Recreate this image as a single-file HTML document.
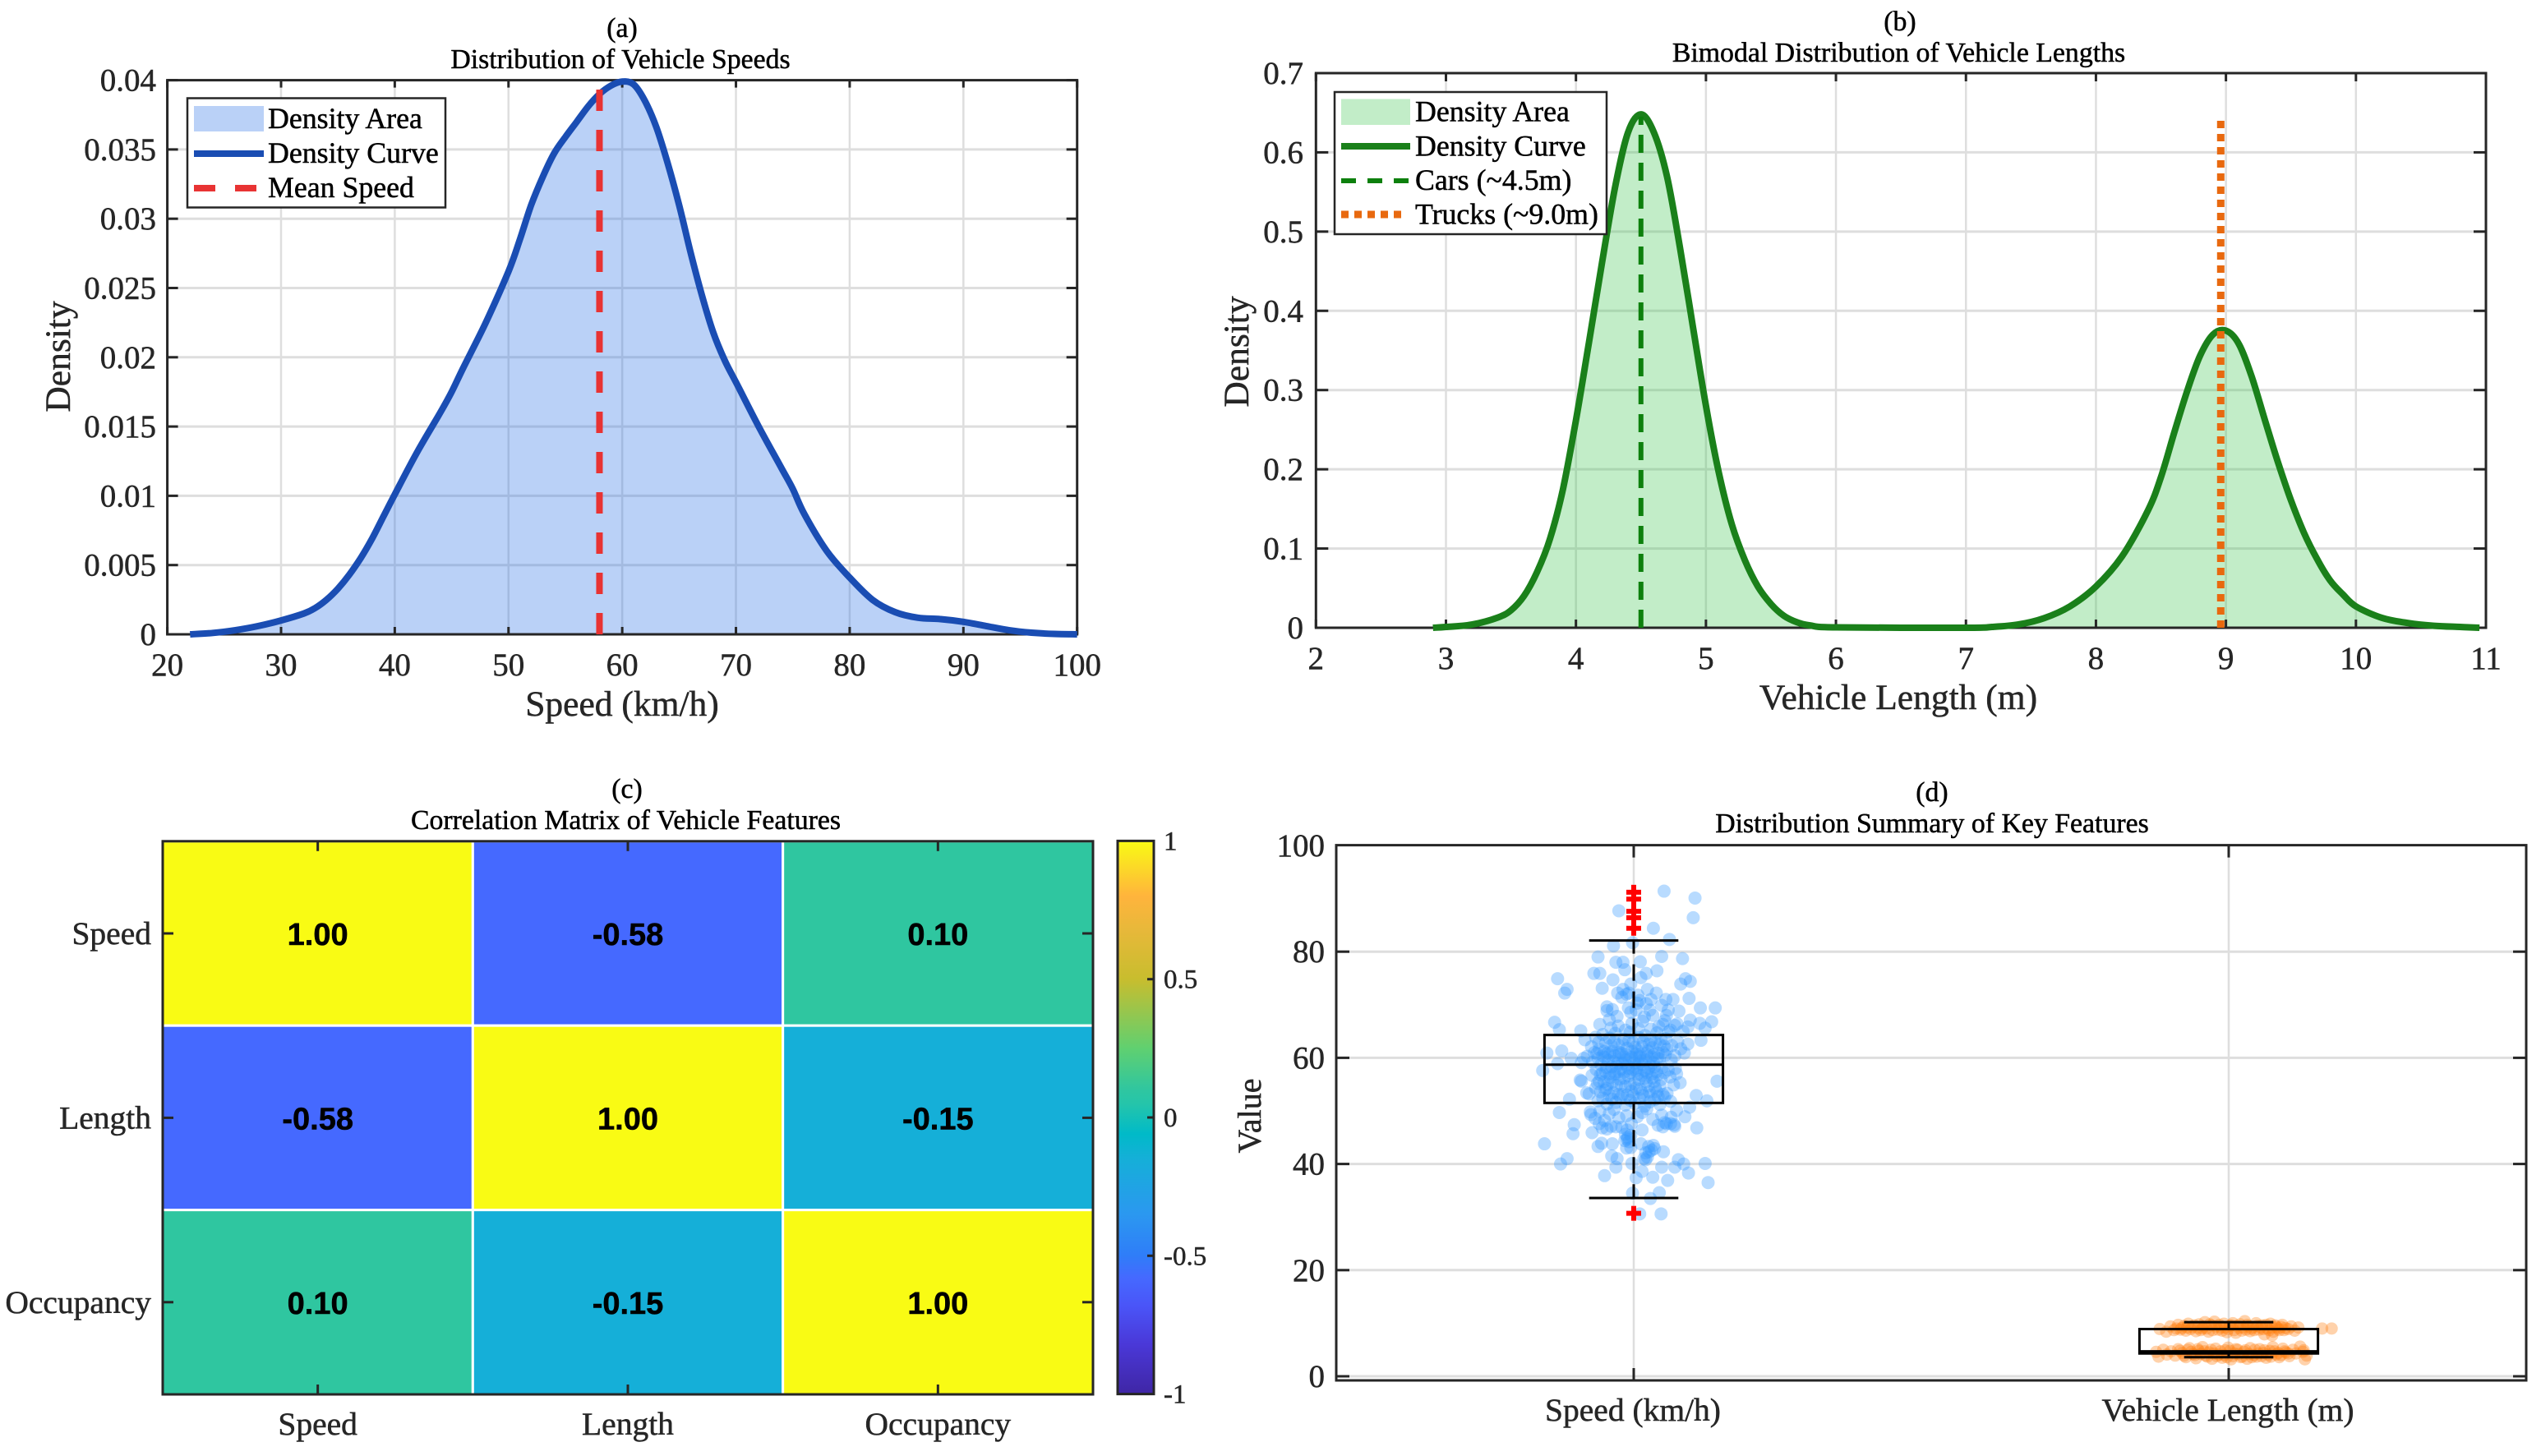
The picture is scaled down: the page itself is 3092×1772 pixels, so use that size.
<!DOCTYPE html>
<html lang="en">
<head>
<meta charset="utf-8">
<title>Vehicle Feature Analysis</title>
<style>
html,body{margin:0;padding:0;background:#fff;}
svg{display:block;font-family:"Liberation Serif",serif;}
svg text{stroke-width:.5px;}
.title{font-size:33.8px;fill:#000;stroke:#000;text-anchor:middle;}
.axis-label{font-size:43.5px;fill:#262626;stroke:#262626;text-anchor:middle;}
.legend-text{font-size:35.8px;fill:#000;stroke:#000;}
</style>
</head>
<body>
<svg id="figure" xmlns="http://www.w3.org/2000/svg" width="3092" height="1772" viewBox="0 0 3092 1772">
  <rect x="0" y="0" width="3092" height="1772" fill="#fff"/>
  <defs><linearGradient id="cbar-gradient" x1="0" y1="1" x2="0" y2="0"></linearGradient></defs>

  <g id="panel-a">
    <text class="title" x="757" y="45">(a)</text>
    <text class="title" x="755" y="83">Distribution of Vehicle Speeds</text>
    <g id="plot-a"></g>
    <text class="axis-label" x="757" y="871">Speed (km/h)</text>
    <text class="axis-label" transform="translate(85 434) rotate(-90)">Density</text>
    <g>
      <rect x="228" y="119.5" width="314" height="133" fill="#fff" stroke="#262626" stroke-width="2.5"/>
      <rect x="236" y="129" width="85" height="31" fill="#bad1f7"/>
      <text class="legend-text" x="326" y="156">Density Area</text>
      <line x1="236" y1="187" x2="321" y2="187" stroke="#1a4db3" stroke-width="8"/>
      <text class="legend-text" x="326" y="198">Density Curve</text>
      <line x1="236" y1="229" x2="321" y2="229" stroke="#e83333" stroke-width="8" stroke-dasharray="26 24"/>
      <text class="legend-text" x="326" y="240">Mean Speed</text>
    </g>
  </g>

  <g id="panel-b">
    <text class="title" x="2312" y="37">(b)</text>
    <text class="title" x="2310.5" y="75">Bimodal Distribution of Vehicle Lengths</text>
    <g id="plot-b"></g>
    <text class="axis-label" x="2310" y="863">Vehicle Length (m)</text>
    <text class="axis-label" transform="translate(1519 428) rotate(-90)">Density</text>
    <g>
      <rect x="1624" y="112" width="331" height="173" fill="#fff" stroke="#262626" stroke-width="2.5"/>
      <rect x="1632" y="120.5" width="84" height="31.5" fill="#c2edc8"/>
      <text class="legend-text" x="1722" y="147.5">Density Area</text>
      <line x1="1632" y1="178" x2="1716" y2="178" stroke="#1a801a" stroke-width="8"/>
      <text class="legend-text" x="1722" y="189.5">Density Curve</text>
      <line x1="1632" y1="220" x2="1716" y2="220" stroke="#0d800d" stroke-width="6" stroke-dasharray="18 14"/>
      <text class="legend-text" x="1722" y="231">Cars (~4.5m)</text>
      <line x1="1632" y1="261" x2="1712" y2="261" stroke="#e8690f" stroke-width="9" stroke-dasharray="9 7"/>
      <text class="legend-text" x="1722" y="272.5">Trucks (~9.0m)</text>
    </g>
  </g>

  <g id="panel-c">
    <text class="title" x="763" y="971">(c)</text>
    <text class="title" x="761.5" y="1009">Correlation Matrix of Vehicle Features</text>
    <g id="plot-c"></g>
    <g id="cbar-c"></g>
  </g>

  <g id="panel-d">
    <text class="title" x="2351" y="975">(d)</text>
    <text class="title" x="2351" y="1013">Distribution Summary of Key Features</text>
    <g id="plot-d"></g>
    <text class="axis-label" style="font-size:40px" transform="translate(1534 1358) rotate(-90)">Value</text>
  </g>
</svg>

<script>
/* ---------- panel (a) data ---------- */
const speedGridX = [20,30,40,50,60,70,80,90,100];
const speedGridY = [0,0.005,0.01,0.015,0.02,0.025,0.03,0.035,0.04];
const speedTickLabelsY = ['0','0.005','0.01','0.015','0.02','0.025','0.03','0.035','0.04'];
const speedCurveX = [22,24,26,28,30,32,33,34,35,36,37,38,39,40,42,44,45,46,48,50,51,52,53,54,55,56,57,58,59,60,61,62,63,64,65,66,67,68,69,70,72,74,75,76,78,80,82,84,86,88,90,92,94,96,98,100];
const speedCurveY = [0,.0001,.0003,.0006,.0010,.0015,.0019,.0025,.0033,.0043,.0055,.0069,.0085,.0101,.0132,.0160,.0175,.0192,.0225,.0262,.0285,.0310,.0330,.0347,.0359,.0370,.0381,.0390,.0396,.0399,.0397,.0385,.0366,.0340,.0310,.0276,.0245,.0218,.0198,.0182,.0150,.0120,.0105,.0087,.0060,.0041,.0025,.0016,.0012,.0011,.0009,.0006,.0003,.00012,.00003,0];
const meanSpeed = 58;
const meanSpeedTop = 0.0395;

/* ---------- panel (b) data ---------- */
const lengthGridX = [2,3,4,5,6,7,8,9,10,11];
const lengthGridY = [0,0.1,0.2,0.3,0.4,0.5,0.6,0.7];
const lengthCurveX = [2.9,3.0,3.2,3.4,3.5,3.6,3.7,3.8,3.9,4.0,4.1,4.2,4.3,4.4,4.5,4.6,4.7,4.8,4.9,5.0,5.1,5.2,5.3,5.4,5.5,5.6,5.7,5.8,6.0,7.0,7.2,7.4,7.6,7.8,8.0,8.2,8.4,8.5,8.6,8.7,8.8,8.9,9.0,9.1,9.2,9.3,9.4,9.5,9.6,9.7,9.8,9.9,10.0,10.2,10.4,10.6,10.8,10.95];
const lengthCurveY = [0,.001,.004,.013,.022,.040,.070,.112,.175,.262,.36,.46,.555,.625,.648,.625,.570,.48,.38,.28,.195,.130,.085,.052,.030,.015,.007,.003,.0005,0,.001,.004,.012,.027,.052,.090,.148,.190,.245,.298,.343,.37,.375,.358,.316,.262,.209,.161,.12,.087,.06,.042,.027,.0125,.006,.0025,.001,0];
const carsLength = 4.5;
const carsTop = 0.645;
const trucksLength = 8.96;
const trucksTop = 0.64;

/* ---------- panel (c) data ---------- */
const matrixLabels = ['Speed','Length','Occupancy'];
const matrixRow1 = [1.00,-0.58,0.10];
const matrixRow2 = [-0.58,1.00,-0.15];
const matrixRow3 = [0.10,-0.15,1.00];
const colorbarTicks = [-1,-0.5,0,0.5,1];
const colormapValues = [-1,-0.82,-0.68,-0.58,-0.5,-0.35,-0.15,-0.06,0.05,0.10,0.25,0.5,0.68,0.8,1];
const colormapColors = ['#3f26a5','#4a38d8','#4a55f8','#4569ff','#2f7df8','#2b98f0','#15afd8','#00bac8','#25c5aa','#2fc6a0','#60d070','#c8bd2e','#e8b83a','#ffb43c','#f9fb14'];

/* ---------- panel (d) data ---------- */
const boxLabels = ['Speed (km/h)','Vehicle Length (m)'];
const boxPositions = [1,2];
const boxQ1 = [51.5,4.3];
const boxMedian = [58.7,4.7];
const boxQ3 = [64.3,8.9];
const boxLow = [33.6,3.6];
const boxHigh = [82.1,10.2];
const speedOutliers = [91.2,89.9,87.6,86.4,84.4,30.7];
const valueTicks = [0,20,40,60,80,100];
/* each sample: [horizontal jitter, value] */
const speedSamples = [
[.051,91.4],[.103,90.1],[.100,86.4],[-.025,87.7],[.033,84.4],[.060,82.3],[-.034,81.1],[-.002,81.7],[-.060,79.0],[.047,79.1],[.082,78.7],[.011,78.1],[-.030,78.0],[-.018,78.0],[-.015,76.6],[.039,76.4],[-.067,75.9],[-.057,75.9],[-.128,74.9],[-.035,74.7],[.012,75.1],[.021,75.9],[.087,74.9],[.095,74.4],[.079,73.9],[-.112,72.9],[-.116,72.2],[-.053,73.1],[-.018,72.9],[-.005,73.9],[.023,72.9],[.038,72.2],[-.020,71.4],[.007,71.8],[.093,71.2],[.137,69.4],[.112,69.4],[-.045,69.6],[-.036,69.1],[-.005,68.6],[.021,70.2],[.047,69.9],[.066,71.0],[.054,71.0],[.076,68.8],[-.133,66.7],[-.125,65.3],[-.089,65.1],[-.057,66.3],[-.041,67.2],[.015,66.9],[.032,68.0],[.049,66.3],[.069,66.1],[.095,67.1],[.131,66.8],[.111,66.5],[.120,65.6],[.113,63.3],[.091,65.8],
[-.027,72.2],[-.008,72.2],[.029,71.0],[.004,69.0],
[-.038,65.6],[-.026,66.0],[-.014,65.2],[-.003,66.5],[.008,65.5],[.018,67.7],[.029,65.4],[.042,65.9],[.052,67.0],[.062,65.2],[.073,66.4],[.083,65.0],[-.045,68.9],[-.028,67.8],[-.009,69.4],[.010,70.8],[.027,69.0],[.055,68.0],[-.012,72.0],[.006,70.3],[.058,69.0],
[-.082,63.4],[-.071,62.1],[-.064,63.9],[-.058,61.6],[-.052,64.4],[-.047,62.8],[-.041,63.7],[-.036,61.2],[-.031,64.6],[-.026,62.4],[-.021,60.9],[-.016,63.5],[-.011,61.8],[-.006,64.8],[-.001,62.9],[.004,60.7],[.009,63.8],[.014,62.1],[.019,64.2],[.024,61.3],[.029,63.2],[.034,60.6],[.039,64.7],[.044,62.5],[.049,61.0],[.054,63.6],[.059,64.9],[.064,62.3],[.069,60.4],[.074,63.0],[.079,61.7],[.085,60.9],[.091,62.6],
[-.078,60.3],[-.069,59.2],[-.062,60.8],[-.055,58.7],[-.049,60.1],[-.043,59.5],[-.037,58.3],[-.032,60.4],[-.027,59.0],[-.022,57.9],[-.017,60.2],[-.012,58.6],[-.007,59.7],[-.002,57.8],[.003,60.0],[.008,58.9],[.013,59.4],[.018,57.6],[.023,60.3],[.028,58.5],[.033,59.1],[.038,57.4],[.043,59.8],[.048,58.2],[.053,60.5],[.058,57.7],[.063,59.6],[.070,58.0],[-.084,59.9],
[-.070,56.7],[-.064,54.3],[-.058,55.6],[-.053,57.1],[-.048,53.9],[-.044,55.0],[-.039,56.3],[-.034,53.4],[-.029,54.8],[-.024,56.0],[-.019,53.1],[-.014,54.6],[-.009,56.6],[-.004,53.7],[.001,55.2],[.006,56.9],[.011,54.1],[.016,52.9],[.021,55.5],[.026,53.6],[.031,56.2],[.036,54.4],[.041,52.7],[.046,55.9],[.051,57.2],[.056,53.3],[.061,56.4],[.067,54.9],[.072,57.0],[.078,55.3],[-.075,53.2],
[-.060,51.9],[-.052,52.4],[-.045,51.3],[-.037,52.2],[-.030,51.6],[-.022,52.5],[-.014,51.1],[-.006,52.0],[.002,51.4],[.010,52.3],[.018,50.9],[.027,51.7],[.035,52.1],[.044,51.2],[.052,52.6],[.062,51.8],
[-.072,49.3],[-.065,48.6],[-.057,49.9],[-.049,48.2],[-.041,49.5],[-.033,50.3],[-.025,48.7],[-.012,49.1],[-.004,47.6],[.006,48.9],[.014,49.7],[.022,50.4],[.032,48.4],[.041,47.3],[.047,49.2],[.055,47.6],[.063,48.8],[.068,47.4],[.069,47.1],[.049,47.0],
[-.125,49.7],[-.108,52.2],[.123,51.9],[.140,55.6],[-.153,57.6],[-.146,60.9],[-.121,61.3],[-.128,58.9],[-.105,59.9],[-.088,59.1],[-.090,55.8],[-.088,55.6],[-.079,53.4],[-.073,49.8],[-.030,47.0],[-.011,46.4],[.014,46.4],[-.100,47.4],[-.102,45.7],[-.070,45.9],[-.053,46.8],[-.150,43.8],[-.060,43.3],[-.054,43.9],[-.036,43.8],[-.005,43.1],[.025,43.3],[.035,42.9],[.050,42.3],[-.112,41.0],[-.123,40.0],[-.037,41.5],[-.028,41.0],[.023,41.3],[.075,40.8],[.084,40.0],[.120,40.1],[-.030,39.4],[-.003,40.1],[.047,39.4],[.069,39.4],[.092,38.3],[-.049,37.8],[.004,37.4],[.014,38.6],[.032,37.5],[.057,36.9],[.125,36.5],[-.002,34.5],[.043,34.6],[.028,33.5],[.010,30.6],[.046,30.6],[-.011,44.7],[-.014,45.6],[.026,42.3],[.017,41.0],[.106,46.8],[.086,48.9],[.094,50.7],[.105,52.9],[.072,50.1],[-.005,45.4],[-.008,44.2],[.012,43.8],[.020,42.1],
[-.066,61.0],[-.059,62.9],[-.050,61.2],[-.044,60.9],[-.038,62.3],[-.033,63.0],[-.024,61.0],[-.019,62.7],[-.013,60.6],[-.008,63.2],[-.003,61.2],[.002,62.0],[.006,61.4],[.011,60.7],[.016,63.0],[.021,60.8],[.026,62.6],[.031,61.9],[.036,62.9],[.041,60.9],[.046,63.5],[.051,62.2],[.056,61.6],
[-.060,59.9],[-.052,60.4],[-.046,58.2],[-.040,60.6],[-.034,59.3],[-.029,58.4],[-.024,60.6],[-.019,58.9],[-.014,59.6],[-.009,58.0],[-.004,60.1],[.001,59.0],[.005,58.1],[.010,60.2],[.015,58.7],[.020,59.6],[.025,58.0],[.030,60.2],[.035,58.3],[.040,60.0],
[-.061,55.2],[-.056,53.6],[-.050,55.5],[-.046,54.2],[-.041,53.0],[-.036,55.4],[-.031,57.0],[-.026,53.1],[-.021,54.9],[-.016,56.2],[-.011,53.0],[-.006,55.0],[-.001,52.9],[.004,54.3],[.009,55.9],[.014,53.4],[.019,56.2],[.024,54.7],[.029,53.0],[.034,55.5],[.039,53.6],[.044,54.7],[.049,53.1],
[-.063,57.8],[-.056,56.8],[-.047,57.4],[-.041,57.0],[-.033,56.9],[-.025,57.4],[-.016,57.3],[-.006,57.2],[.004,57.6],[.013,56.7],[.022,57.2],[.030,56.9],[.040,56.8],
[-.058,47.6],[-.045,46.6],[-.038,47.1],[-.020,46.9],[-.015,44.4],[-.010,45.0],[-.012,43.0],[.052,47.8],[.062,47.6],[.033,43.5],[.030,42.6],[.020,40.8]
];
const lengthSamples = [
[-.116,8.9],[-.105,8.4],[-.098,9.4],[-.092,8.7],[-.085,9.7],[-.079,9.1],[-.072,8.6],[-.068,9.9],[-.061,9.3],[-.055,8.5],[-.05,9.8],[-.044,9.0],[-.04,10.2],[-.034,8.4],[-.029,9.6],[-.024,10.3],[-.018,8.8],[-.013,9.2],[-.008,9.9],[-.003,8.3],[.002,9.5],[.007,10.0],[.012,8.2],[.017,9.1],[.022,8.6],[.027,10.4],[.031,9.7],[.036,8.5],[.041,9.3],[.046,10.0],[.051,8.8],[.056,9.6],[.06,7.9],[.065,9.0],[.07,9.9],[.075,8.4],[.08,9.3],[.085,8.7],[.09,9.7],[.095,9.1],[.1,8.9],[.105,9.4],[.111,8.6],[.117,9.2],[.157,9.0],[.173,9.0],[.073,7.7],
[-.088,9.0],[-.081,8.8],[-.075,9.5],[-.07,9.2],[-.064,8.9],[-.058,9.6],[-.052,9.1],[-.047,8.7],[-.042,9.4],[-.037,9.0],[-.032,9.8],[-.027,8.7],[-.021,9.4],[-.016,9.7],[-.011,8.6],[-.006,9.2],[-.001,8.9],[.004,9.6],[.009,8.7],[.014,9.5],[.019,9.8],[.024,9.2],[.029,8.8],[.033,9.4],[.038,9.0],[.043,8.7],[.048,9.5],[.053,9.2],[.058,8.9],[.063,9.7],[.068,8.7],[.073,9.2],[.078,9.6],[.083,9.0],[.088,9.3],[.093,8.7],
[-.122,4.6],[-.118,3.7],[-.11,5.0],[-.104,4.1],[-.097,4.7],[-.09,3.9],[-.085,5.1],[-.078,4.4],[-.072,3.6],[-.066,5.3],[-.06,4.2],[-.055,3.4],[-.05,4.8],[-.044,5.5],[-.039,3.9],[-.033,4.5],[-.028,3.3],[-.022,5.2],[-.017,4.1],[-.011,3.5],[-.006,4.9],[-.001,5.4],[.004,3.2],[.01,4.3],[.015,5.0],[.02,3.6],[.026,4.6],[.031,3.3],[.036,5.3],[.042,4.0],[.047,3.7],[.052,5.1],[.058,4.4],[.063,3.5],[.069,4.8],[.074,5.5],[.08,4.1],[.085,3.6],[.091,5.2],[.096,4.5],[.102,3.8],[.108,5.0],[.113,4.3],[.12,5.6],[.125,4.6],[.131,3.9],[.128,3.2],[.126,4.9],
[-.082,4.8],[-.075,3.9],[-.069,5.0],[-.063,4.6],[-.057,4.0],[-.052,5.1],[-.047,4.2],[-.041,4.7],[-.036,3.7],[-.03,5.0],[-.025,4.3],[-.02,3.8],[-.014,4.7],[-.008,4.0],[-.003,3.6],[.002,4.8],[.007,3.8],[.012,5.1],[.017,4.2],[.023,3.7],[.028,4.9],[.034,4.2],[.039,3.6],[.044,5.0],[.05,4.3],[.055,3.8],[.06,4.9],[.066,4.1],[.071,3.7],[.077,4.7],[.083,4.4],[.088,4.0],[.094,4.7],[.1,4.3]
];

/* ---------- helpers ---------- */
const SVGNS = 'http://www.w3.org/2000/svg';
const AXIS_COLOR = '#262626';
const GRID_COLOR = '#dedede';
function node(parent, tag, name, attrs, content) {
  const el = document.createElementNS(SVGNS, tag);
  
  
  for (const k in attrs) el.setAttribute(k, attrs[k]);
  if (content !== undefined) el.textContent = content;
  parent.appendChild(el);
  return el;
}
function linear(d0, d1, r0, r1) {
  return function (v) { return r0 + (v - d0) / (d1 - d0) * (r1 - r0); };
}
function tickText(parent, name, x, y, anchor, size, label) {
  node(parent, 'text', name, {x: x, y: y, 'text-anchor': anchor, 'font-size': size, fill: AXIS_COLOR, stroke: AXIS_COLOR}, label);
}
function frame(parent, box, name) {
  node(parent, 'rect', name, {x: box.left, y: box.top, width: box.right - box.left, height: box.bottom - box.top, fill: 'none', stroke: AXIS_COLOR, 'stroke-width': 3});
}
function hLine(parent, name, x1, x2, y, color, w) {
  node(parent, 'line', name, {x1: x1, x2: x2, y1: y, y2: y, stroke: color, 'stroke-width': w});
}
function vLine(parent, name, x, y1, y2, color, w, dash) {
  const attrs = {x1: x, x2: x, y1: y1, y2: y2, stroke: color, 'stroke-width': w};
  if (dash) attrs['stroke-dasharray'] = dash;
  node(parent, 'line', name, attrs);
}
/* smooth curve through the data points (Catmull-Rom converted to cubic Beziers) */
function smoothPath(xs, ys, sx, sy) {
  const p = xs.map(function (x, i) { return [sx(x), sy(ys[i])]; });
  let d = 'M' + p[0][0].toFixed(1) + ' ' + p[0][1].toFixed(1);
  for (let i = 0; i < p.length - 1; i++) {
    const p0 = p[Math.max(i - 1, 0)], p1 = p[i], p2 = p[i + 1], p3 = p[Math.min(i + 2, p.length - 1)];
    const c1x = p1[0] + (p2[0] - p0[0]) / 6, c1y = p1[1] + (p2[1] - p0[1]) / 6;
    const c2x = p2[0] - (p3[0] - p1[0]) / 6, c2y = p2[1] - (p3[1] - p1[1]) / 6;
    d += 'C' + c1x.toFixed(1) + ' ' + c1y.toFixed(1) + ' ' + c2x.toFixed(1) + ' ' + c2y.toFixed(1) + ' ' + p2[0].toFixed(1) + ' ' + p2[1].toFixed(1);
  }
  return d;
}
function drawDensityPanel(g, cfg) {
  const box = cfg.box, sx = cfg.sx, sy = cfg.sy;
  cfg.gridX.forEach(function (v) {
    if (v !== cfg.gridX[0] && v !== cfg.gridX[cfg.gridX.length - 1])
      vLine(g, 'vertical-gridline', sx(v), box.top, box.bottom, GRID_COLOR, 2.5);
  });
  cfg.gridY.forEach(function (v, i) {
    if (i !== 0 && i !== cfg.gridY.length - 1)
      hLine(g, 'horizontal-gridline', box.left, box.right, sy(v), GRID_COLOR, 3);
  });
  const curve = smoothPath(cfg.curveX, cfg.curveY, sx, sy);
  const areaPath = curve + 'L' + sx(cfg.curveX[cfg.curveX.length - 1]).toFixed(1) + ' ' + sy(0).toFixed(1) + 'L' + sx(cfg.curveX[0]).toFixed(1) + ' ' + sy(0).toFixed(1) + 'Z';
  node(g, 'path', 'density-area', {d: areaPath, fill: cfg.areaColor, 'fill-opacity': 0.3});
  frame(g, box, 'axes-frame');
  cfg.gridX.forEach(function (v, i) {
    vLine(g, 'x-tick-bottom', sx(v), box.bottom, box.bottom - cfg.xTickLen, AXIS_COLOR, 3);
    vLine(g, 'x-tick-top', sx(v), box.top, box.top + cfg.xTickLen, AXIS_COLOR, 3);
    tickText(g, 'x-tick-label', sx(v), box.bottom + cfg.xLabelGap, 'middle', 39, String(v));
  });
  cfg.gridY.forEach(function (v, i) {
    hLine(g, 'y-tick-left', box.left, box.left + cfg.yTickLen, sy(v), AXIS_COLOR, 3);
    hLine(g, 'y-tick-right', box.right, box.right - cfg.yTickLen, sy(v), AXIS_COLOR, 3);
    tickText(g, 'y-tick-label', cfg.yLabelX, sy(v) + 13, 'end', 39, cfg.labelsY[i]);
  });
  node(g, 'path', 'density-curve', {d: curve, fill: 'none', stroke: cfg.lineColor, 'stroke-width': 8, 'stroke-linejoin': 'round'});
}

/* ---------- panel (a) ---------- */
const boxA = {left: 203.6, right: 1310.7, top: 97.6, bottom: 772};
const xA = linear(20, 100, boxA.left, boxA.right);
const yA = linear(0, 0.04, boxA.bottom, boxA.top);
const plotA = document.getElementById('plot-a');
drawDensityPanel(plotA, {
  box: boxA, sx: xA, sy: yA, gridX: speedGridX, gridY: speedGridY, labelsY: speedTickLabelsY,
  curveX: speedCurveX, curveY: speedCurveY, areaColor: '#1a66e6', lineColor: '#1a4db3',
  xTickLen: 9, yTickLen: 13, xLabelGap: 50, yLabelX: 190
});
vLine(plotA, 'mean-speed-line', xA(meanSpeed), yA(0), yA(meanSpeedTop), '#e83333', 8, '26 23');

/* ---------- panel (b) ---------- */
const boxB = {left: 1601.3, right: 3025, top: 89, bottom: 764};
const xB = linear(2, 11, boxB.left, boxB.right);
const yB = linear(0, 0.7, boxB.bottom, boxB.top);
const plotB = document.getElementById('plot-b');
drawDensityPanel(plotB, {
  box: boxB, sx: xB, sy: yB, gridX: lengthGridX, gridY: lengthGridY, labelsY: lengthGridY.map(String),
  curveX: lengthCurveX, curveY: lengthCurveY, areaColor: '#34c348', lineColor: '#1a801a',
  xTickLen: 10, yTickLen: 15, xLabelGap: 50, yLabelX: 1586
});
vLine(plotB, 'cars-length-line', xB(carsLength), yB(0), yB(carsTop), '#0d800d', 6, '22 12');
vLine(plotB, 'trucks-length-line', xB(trucksLength), yB(0), yB(trucksTop), '#e8690f', 9, '9 7');

/* ---------- panel (c) ---------- */
const boxC = {left: 198, right: 1330, top: 1023.8, bottom: 1697};
const matrixRows = [matrixRow1, matrixRow2, matrixRow3];
const cellX = linear(0, matrixLabels.length, boxC.left, boxC.right);
const cellY = linear(0, matrixLabels.length, boxC.top, boxC.bottom);
function hexToRgb(h) { return [parseInt(h.slice(1, 3), 16), parseInt(h.slice(3, 5), 16), parseInt(h.slice(5, 7), 16)]; }
function colorFor(v) {
  for (let i = 1; i < colormapValues.length; i++) {
    if (v <= colormapValues[i]) {
      const t = (v - colormapValues[i - 1]) / (colormapValues[i] - colormapValues[i - 1]);
      const a = hexToRgb(colormapColors[i - 1]), b = hexToRgb(colormapColors[i]);
      return 'rgb(' + a.map(function (c, k) { return Math.round(c + (b[k] - c) * t); }).join(',') + ')';
    }
  }
  return colormapColors[colormapColors.length - 1];
}
const plotC = document.getElementById('plot-c');
matrixRows.forEach(function (row, r) {
  row.forEach(function (v, c) {
    node(plotC, 'rect', 'heatmap-cell', {x: cellX(c), y: cellY(r), width: cellX(c + 1) - cellX(c), height: cellY(r + 1) - cellY(r), fill: colorFor(v), stroke: '#fff', 'stroke-width': 3});
  });
});
frame(plotC, boxC, 'heatmap-frame');
matrixLabels.forEach(function (label, i) {
  const cx = cellX(i + 0.5), cy = cellY(i + 0.5);
  vLine(plotC, 'heatmap-x-tick-bottom', cx, boxC.bottom, boxC.bottom - 12, AXIS_COLOR, 3);
  vLine(plotC, 'heatmap-x-tick-top', cx, boxC.top, boxC.top + 12, AXIS_COLOR, 3);
  hLine(plotC, 'heatmap-y-tick-left', boxC.left, boxC.left + 13, cy, AXIS_COLOR, 3);
  hLine(plotC, 'heatmap-y-tick-right', boxC.right, boxC.right - 13, cy, AXIS_COLOR, 3);
  tickText(plotC, 'heatmap-x-label', cx, 1746, 'middle', 39.5, label);
  tickText(plotC, 'heatmap-y-label', 184, cy + 13, 'end', 39.5, label);
});
matrixRows.forEach(function (row, r) {
  row.forEach(function (v, c) {
    node(plotC, 'text', 'heatmap-value', {x: cellX(c + 0.5), y: cellY(r + 0.5) + 14, 'text-anchor': 'middle', 'font-size': 38, 'font-weight': 'bold', 'font-family': '"Liberation Sans",sans-serif', fill: '#000', stroke: '#000'}, v.toFixed(2));
  });
});
const gradient = document.getElementById('cbar-gradient');
colormapValues.forEach(function (v, i) {
  node(gradient, 'stop', 'colormap-stop', {offset: ((v + 1) / 2 * 100).toFixed(2) + '%', 'stop-color': colormapColors[i]});
});
const cbarG = document.getElementById('cbar-c');
const boxCbar = {left: 1360, right: 1404, top: 1023.4, bottom: 1696.6};
const yCbar = linear(-1, 1, boxCbar.bottom, boxCbar.top);
node(cbarG, 'rect', 'colorbar-gradient', {x: boxCbar.left, y: boxCbar.top, width: boxCbar.right - boxCbar.left, height: boxCbar.bottom - boxCbar.top, fill: 'url(#cbar-gradient)', stroke: AXIS_COLOR, 'stroke-width': 3});
colorbarTicks.forEach(function (v) {
  if (v !== -1 && v !== 1) hLine(cbarG, 'colorbar-tick', boxCbar.right, boxCbar.right - 8, yCbar(v), AXIS_COLOR, 3);
  tickText(cbarG, 'colorbar-tick-label', 1416, yCbar(v) + 11, 'start', 33, String(v));
});

/* ---------- panel (d) ---------- */
const boxD = {left: 1626, right: 3074, top: 1028.6, bottom: 1680};
const xD = linear(0.5, 2.5, boxD.left, boxD.right);
const yD = linear(0, 100, 1675, 1029);
const plotD = document.getElementById('plot-d');
boxPositions.forEach(function (p) { vLine(plotD, 'vertical-gridline', xD(p), boxD.top, boxD.bottom, GRID_COLOR, 2.5); });
valueTicks.forEach(function (v) { if (v !== 100) hLine(plotD, 'horizontal-gridline', boxD.left, boxD.right, yD(v), GRID_COLOR, 3); });
speedSamples.forEach(function (s) {
  node(plotD, 'circle', 'speed-sample-point', {cx: xD(boxPositions[0] + s[0]), cy: yD(s[1]), r: 8, fill: '#3399ff', 'fill-opacity': 0.35});
});
lengthSamples.forEach(function (s) {
  node(plotD, 'circle', 'length-sample-point', {cx: xD(boxPositions[1] + s[0]), cy: yD(s[1]), r: 7.5, fill: '#ff7f0e', 'fill-opacity': 0.35});
});
frame(plotD, boxD, 'summary-axes-frame');
boxPositions.forEach(function (p, i) {
  const cx = xD(p);
  vLine(plotD, 'x-tick-bottom', cx, boxD.bottom, boxD.bottom - 15, AXIS_COLOR, 3);
  vLine(plotD, 'x-tick-top', cx, boxD.top, boxD.top + 15, AXIS_COLOR, 3);
  tickText(plotD, 'x-tick-label', cx - 1, 1729, 'middle', 39.5, boxLabels[i]);
  const half = xD(p + 0.15) - cx, capHalf = xD(p + 0.075) - cx;
  vLine(plotD, 'whisker-upper', cx, yD(boxQ3[i]), yD(boxHigh[i]), '#000', 3, '20 13');
  vLine(plotD, 'whisker-lower', cx, yD(boxQ1[i]), yD(boxLow[i]), '#000', 3, '20 13');
  hLine(plotD, 'whisker-cap-upper', cx - capHalf, cx + capHalf, yD(boxHigh[i]), '#000', 3);
  hLine(plotD, 'whisker-cap-lower', cx - capHalf, cx + capHalf, yD(boxLow[i]), '#000', 3);
  node(plotD, 'rect', 'box-iqr', {x: cx - half, y: yD(boxQ3[i]), width: half * 2, height: yD(boxQ1[i]) - yD(boxQ3[i]), fill: 'none', stroke: '#000', 'stroke-width': 3});
  hLine(plotD, 'box-median', cx - half, cx + half, yD(boxMedian[i]), '#000', 3);
});
valueTicks.forEach(function (v) {
  if (v !== 100) {
    hLine(plotD, 'y-tick-left', boxD.left, boxD.left + 16, yD(v), AXIS_COLOR, 3);
    hLine(plotD, 'y-tick-right', boxD.right, boxD.right - 16, yD(v), AXIS_COLOR, 3);
  }
  tickText(plotD, 'y-tick-label', 1612, yD(v) + 13, 'end', 39, String(v));
});
speedOutliers.forEach(function (v) {
  const cx = xD(boxPositions[0]), cy = yD(v);
  hLine(plotD, 'speed-outlier-h', cx - 9, cx + 9, cy, '#ff0000', 6);
  vLine(plotD, 'speed-outlier-v', cx, cy - 9, cy + 9, '#ff0000', 6);
});
</script>
</body>
</html>
